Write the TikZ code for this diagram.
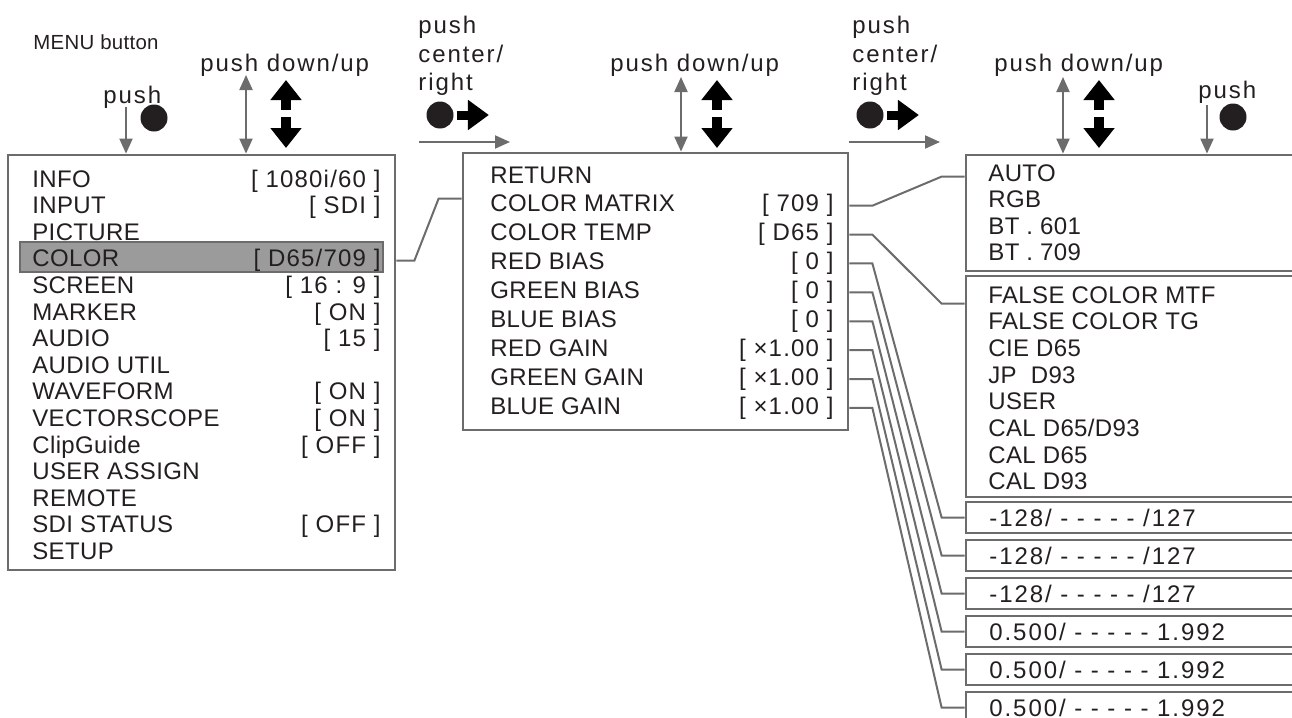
\documentclass[tikz,border=0pt]{standalone}
\usepackage{fontspec}
\setmainfont{Liberation Sans}
\newfontfamily\menufont[LetterSpace=1.5]{Liberation Sans}
\newfontfamily\valfont[LetterSpace=5]{Liberation Sans}
\newfontfamily\spacedfont[LetterSpace=8]{Liberation Sans}
\usetikzlibrary{positioning,arrows.meta,calc,fit}
\definecolor{ink}{RGB}{35,31,32}
\definecolor{frame}{RGB}{108,108,108}
\definecolor{hilite}{RGB}{155,155,155}
\tikzset{
  menubox/.style={draw=frame, line width=1.4pt, inner sep=0pt, fill=white},
  hlbar/.style={draw=frame, line width=1pt, inner sep=0pt, fill=hilite},
  item/.style={anchor=base west, text=ink, font=\menufont\fontsize{12}{12}\selectfont, inner sep=0pt},
  val/.style={anchor=base east, text=ink, font=\valfont\fontsize{12}{12}\selectfont, inner sep=0pt},
  rngtext/.style={anchor=base west, text=ink, font=\spacedfont\fontsize{12}{12}\selectfont, inner sep=0pt},
  hint/.style={anchor=west, text=ink, font=\spacedfont\fontsize{12}{14.25}\selectfont, inner sep=0pt, align=left},
  small/.style={anchor=west, text=ink, font=\menufont\fontsize{10.2}{10}\selectfont, inner sep=0pt},
  link/.style={draw=frame, line width=1pt},
  garr/.style={draw=frame, line width=1pt, -{Triangle[length=7.5pt,width=6.5pt]}},
  gdarr/.style={draw=frame, line width=1pt, {Triangle[length=7.5pt,width=6.5pt]}-{Triangle[length=7.5pt,width=6.5pt]}},
  barr/.style={draw=black, line width=5pt, -{Triangle[length=10pt,width=15pt]}},
  bright/.style={draw=black, line width=4.5pt, -{Triangle[length=10.5pt,width=14.5pt]}},
  dot/.style={circle, fill=ink, minimum size=13.5pt, inner sep=0pt},
}
\begin{document}
\begin{tikzpicture}[x=0.5pt, y=-0.5pt]
  \useasboundingbox (0,0) rectangle (1292,718);
  \clip (0,0) rectangle (1292,718);

  % main menu
  \node[menubox, fit={(8,155) (395,570)}] (main) {};
  \node[hlbar, fit={(20,242) (383,272)}] (hl) {};
  \foreach \name/\val [count=\i] in {INFO/{[ 1080i/60 ]}, INPUT/{[ SDI ]}, PICTURE/{},
      COLOR/{[ D65/709 ]}, SCREEN/{[ 16 : 9 ]}, MARKER/{[ ON ]}, AUDIO/{[ 15 ]},
      AUDIO UTIL/{}, WAVEFORM/{[ ON ]}, VECTORSCOPE/{[ ON ]}, ClipGuide/{[ OFF ]},
      USER ASSIGN/{}, REMOTE/{}, SDI STATUS/{[ OFF ]}, SETUP/{}} {
    \node[item] (main-n\i) at (32, 160.4+26.6*\i) {\name};
    \node[val] (main-v\i) at (381, 160.4+26.6*\i) {\val};
  }

  % COLOR sub menu
  \node[menubox, fit={(463,153) (848,430)}] (sub) {};
  \foreach \name/\val [count=\i] in {RETURN/{}, COLOR MATRIX/{[ 709 ]}, COLOR TEMP/{[ D65 ]},
      RED BIAS/{[ 0 ]}, GREEN BIAS/{[ 0 ]}, BLUE BIAS/{[ 0 ]},
      RED GAIN/{[ ×1.00 ]}, GREEN GAIN/{[ ×1.00 ]}, BLUE GAIN/{[ ×1.00 ]}} {
    \node[item] (sub-n\i) at (490, 154.1+28.9*\i) {\name};
    \node[val] (sub-v\i) at (834, 154.1+28.9*\i) {\val};
  }

  % settings
  \node[menubox, fit={(966,155) (1310,271)}] (mtx) {};
  \foreach \name [count=\i] in {AUTO, RGB, BT . 601, BT . 709}
    \node[item] (mtx-n\i) at (988, 154.4+26.6*\i) {\name};
  \node[menubox, fit={(966,276) (1310,497)}] (tmp) {};
  \foreach \name [count=\i] in {FALSE COLOR MTF, FALSE COLOR TG, CIE D65, JP\ \ D93,
      USER, CAL D65/D93, CAL D65, CAL D93}
    \node[item] (tmp-n\i) at (988, 276.3+26.7*\i) {\name};
  \foreach \txt [count=\i] in {{-128/ - - - - - /127}, {-128/ - - - - - /127}, {-128/ - - - - - /127},
      {0.500/ - - - - - 1.992}, {0.500/ - - - - - 1.992}, {0.500/ - - - - - 1.992}} {
    \node[menubox, fit={(966,464+38*\i) (1310,495+38*\i)}] (rng\i) {};
    \node[rngtext] (rng-t\i) at (989, 488+38*\i) {\txt};
  }

  % connectors
  \coordinate (in0) at ($(sub.north west)+(0,47)$);
  \draw[link] (main.east |- main-v4) -- ++(18,0) -- ($(in0)+(-23,0)$) -- (in0);
  \coordinate (in1) at ($(mtx.north west)+(0,23)$);
  \draw[link] (sub.east |- sub-v2) -- ++(23,0) -- ($(in1)+(-23,0)$) -- (in1);
  \coordinate (in2) at ($(tmp.north west)+(0,29)$);
  \draw[link] (sub.east |- sub-v3) -- ++(23,0) -- ($(in2)+(-23,0)$) -- (in2);
  \foreach \i [evaluate=\i as \j using int(\i+3)] in {1,...,6}
    \draw[link] (sub.east |- sub-v\j) -- ++(23,0) -- ($(rng\i.west)+(-23,0)$) -- (rng\i.west);

  % key hints
  \node[small] (menu) at (33,42) {MENU button};
  \node[hint] (push1) at (103,97) {push};
  \node[dot] (dot1) at (154,118) {};
  \coordinate (p1) at (126,107);
  \draw[garr] (p1) -- (p1 |- main.north);

  \node[hint] (ud1) at (200,65) {push down/up};
  \node[hint] (ud2) at (610,65) {push down/up};
  \node[hint] (ud3) at (994,65) {push down/up};
  \coordinate (d1) at (246,75);
  \coordinate (d2) at (681,77);
  \coordinate (d3) at (1063,77);
  \draw[gdarr] (d1) -- (d1 |- main.north);
  \draw[gdarr] (d2) -- (d2 |- sub.north);
  \draw[gdarr] (d3) -- (d3 |- mtx.north);
  \foreach \x in {286,717,1099} {
    \coordinate (k) at (\x,114);
    \draw[barr] ($(k)+(0,-4)$) -- ($(k)+(0,-34)$);
    \draw[barr] ($(k)+(0,3)$) -- ($(k)+(0,34)$);
  }

  \node[hint] (cr1) at (418,56) {push\\center/\\right};
  \node[hint] (cr2) at (852,56) {push\\center/\\right};
  \node[dot] (dot2) at (440,115) {};
  \node[dot] (dot3) at (870,115) {};
  \draw[bright] ($(dot2.east)+(3,0)$) -- ++(32,0);
  \draw[bright] ($(dot3.east)+(3,0)$) -- ++(32,0);
  \coordinate (r1a) at (419,142);
  \coordinate (r1b) at (510,142);
  \coordinate (r2a) at (849,142);
  \coordinate (r2b) at (940,142);
  \draw[garr] (r1a) -- (r1b);
  \draw[garr] (r2a) -- (r2b);

  \node[hint] (push2) at (1198,92) {push};
  \node[dot] (dot4) at (1233,117) {};
  \coordinate (p2) at (1207,105);
  \draw[garr] (p2) -- (p2 |- mtx.north);
\end{tikzpicture}
\end{document}
